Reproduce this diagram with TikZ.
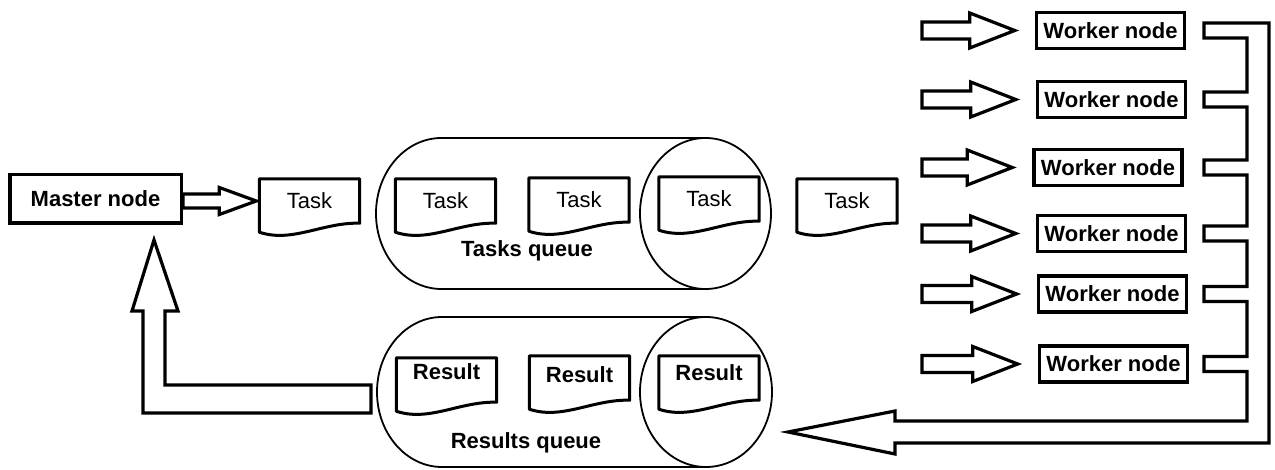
\documentclass[tikz,border=0pt]{standalone}
\usepackage{fontspec}
\setmainfont{Liberation Sans}
\usetikzlibrary{calc}

% horizontal block arrow: tail x from #1, tip at #2, shaft half-height #3,
% head half-height #4, head length #5
\newcommand\hblock[5]{%
  \draw[blk] let \p1=(#1), \p2=(#2) in
    (\x1,\y2+#3) -- (\x2-#5,\y2+#3) -- (\x2-#5,\y2+#4) -- (\p2)
    -- (\x2-#5,\y2-#4) -- (\x2-#5,\y2-#3) -- (\x1,\y2-#3) -- cycle;}

% outline of a document symbol with a wavy lower edge
\newcommand\docline[1]{%
  \draw[docedge] ([yshift=-9pt]#1.south west) -- (#1.north west) -- (#1.north east)
    -- (#1.south east)
    .. controls ([xshift=-37pt,yshift=1pt]#1.south east)
       and ([xshift=33pt,yshift=-20pt]#1.south west) ..
    ([yshift=-9pt]#1.south west) -- cycle;}

\tikzset{
  txt/.style={font=\fontsize{22}{26}\selectfont},
  bold/.style={font=\fontsize{22}{26}\selectfont\bfseries},
  box/.style={draw, line width=3.5pt, inner sep=0pt, bold},
  worker/.style={box, minimum width=148pt, minimum height=36pt},
  docnode/.style={txt, minimum width=100pt, minimum height=44pt, inner sep=0pt,
    text height=30pt, text depth=14pt},
  resnode/.style={docnode, bold},
  docedge/.style={line width=3pt, line join=round},
  blk/.style={line width=3.2pt, fill=white, line join=miter},
  queue/.style={line width=1.8pt},
}

\begin{document}
\begin{tikzpicture}[x=1pt,y=-1pt]
\useasboundingbox (0,0) rectangle (1275,470);

% ---- master node and the first task ----
\node[box, minimum width=171.5pt, minimum height=48.5pt] (m) at (95.5,199) {Master node};
\node[docnode] (t1) at (309.5,201) {Task};
\docline{t1}
\hblock{m.east}{[xshift=-3pt]t1.west}{7pt}{13.5pt}{37pt}

% ---- tasks queue ----
\coordinate (tq) at (705.5,213.5);
\draw[queue] (705.5,138) -- (441.5,138)
  arc[start angle=90, end angle=270, x radius=65.5pt, y radius=75.5pt] -- (705.5,289);
\draw[queue] (tq) ellipse[x radius=65.5pt, y radius=75.5pt];
\node[docnode] (ta) at (445.5,201) {Task};
\node[docnode] (tb) at (579,200) {Task};
\node[docnode] (tc) at (709,199) {Task};
\docline{ta}\docline{tb}\docline{tc}
\node[bold] (tql) at (527,251) {Tasks queue};

% ---- task taken by the workers ----
\node[docnode] (t4) at (847,201) {Task};
\docline{t4}

% ---- results queue ----
\coordinate (rq) at (706,392);
\draw[queue] (706,317) -- (442,317)
  arc[start angle=90, end angle=270, x radius=65pt, y radius=75pt] -- (706,467);
\draw[queue] (rq) ellipse[x radius=66pt, y radius=75pt];
\node[resnode, text height=22pt, text depth=22pt] (ra) at (446.5,380) {Result};
\node[resnode, text height=27pt, text depth=17pt] (rb) at (579.5,378) {Result};
\node[resnode, text height=25pt, text depth=19pt] (rc) at (709,378) {Result};
\docline{ra}\docline{rb}\docline{rc}
\node[bold] (rql) at (526,443) {Results queue};

% ---- worker nodes ----
\node[worker] (w1) at (1110.5,30.5) {Worker node};
\node[worker] (w2) at (1111.5,99.5) {Worker node};
\node[worker] (w3) at (1108,167.5) {Worker node};
\node[worker] (w4) at (1111.5,233.5) {Worker node};
\node[worker] (w5) at (1112.5,294) {Worker node};
\node[worker] (w6) at (1113.5,364) {Worker node};

\coordinate (wt) at (922,0);
\foreach \i in {1,...,6} {
  \hblock{wt}{[xshift=-20pt]w\i.west}{8.5pt}{17.5pt}{45pt}
}

% ---- collecting pipe from the workers back to the results queue ----
\coordinate (sx) at (1204,0);
\coordinate (ix) at (1247,0);
\coordinate (ox) at (1269,0);
\foreach \i in {1,...,6} {
  \path (w\i.east -| sx) ++(0,-7.5) coordinate (st\i) ++(0,15) coordinate (sb\i);
}
\coordinate (hu) at (895,421);
\coordinate (hl) at (895,443);
\coordinate (hu2) at (895,411);
\coordinate (hl2) at (895,454);
\coordinate (rtip) at (788,432);
\draw[blk] (hu) -- (hu -| ix)
  -- (sb6 -| ix) -- (sb6) -- (st6) -- (st6 -| ix)
  -- (sb5 -| ix) -- (sb5) -- (st5) -- (st5 -| ix)
  -- (sb4 -| ix) -- (sb4) -- (st4) -- (st4 -| ix)
  -- (sb3 -| ix) -- (sb3) -- (st3) -- (st3 -| ix)
  -- (sb2 -| ix) -- (sb2) -- (st2) -- (st2 -| ix)
  -- (sb1 -| ix) -- (sb1) -- (st1) -- (st1 -| ox)
  -- (ox |- hl) -- (hl) -- (hl2) -- (rtip) -- (hu2) -- cycle;

% ---- results back to the master node ----
\coordinate (rtail) at (371,399);
\coordinate (mtip) at (154,240);
\draw[blk] let \p1=(rtail), \p2=(mtip) in
  (\x1,\y1+14pt) -- (\x2+11pt,\y1+14pt) -- (\x2+11pt,\y2-71pt) -- (\x2+24pt,\y2-71pt)
  -- (\p2) -- (\x2-22pt,\y2-71pt) -- (\x2-11pt,\y2-71pt) -- (\x2-11pt,\y1-14pt)
  -- (\x1,\y1-14pt) -- cycle;
\end{tikzpicture}
\end{document}
